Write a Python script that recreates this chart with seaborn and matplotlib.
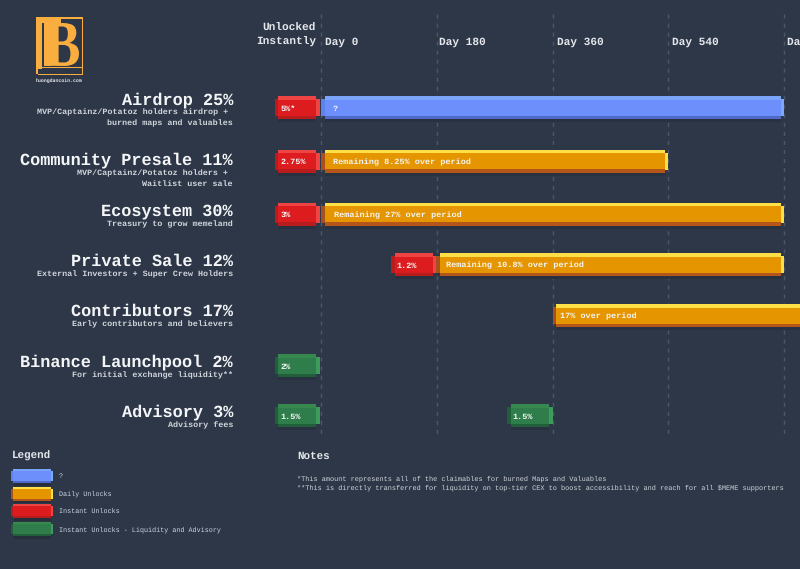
import matplotlib
matplotlib.use("Agg")
import matplotlib.pyplot as plt
import seaborn as sns
from matplotlib.font_manager import FontProperties
from matplotlib.patches import PathPatch, Rectangle
from matplotlib.textpath import TextPath
from matplotlib.transforms import Affine2D

BG = "#2d3748"
MONO = "Liberation Mono"

# allocation rows
titles = ["Airdrop 25%", "Community Presale 11%", "Ecosystem 30%", "Private Sale 12%",
          "Contributors 17%", "Binance Launchpool 2%", "Advisory 3%"]
subtitles = ["MVP/Captainz/Potatoz holders airdrop + \nburned maps and valuables",
             "MVP/Captainz/Potatoz holders + \nWaitlist user sale",
             "Treasury to grow memeland",
             "External Investors + Super Crew Holders",
             "Early contributors and believers",
             "For initial exchange liquidity**",
             "Advisory fees"]
row_y = [107.5, 161, 214, 264.5, 315.5, 365.5, 415.5]
title_base = [104, 164.5, 215.5, 265.5, 315.5, 366.5, 416.5]

# unlock segments, days relative to TGE (negative = "unlocked instantly" column)
seg_row = [0, 0, 1, 1, 2, 2, 3, 3, 4, 5, 6, 6]
seg_start = [-72, 0, -72, 0, -72, 0, 109, 179, 360, -72, -72, 290]
seg_end = [-2, 720, -2, 540, -2, 720, 179, 720, 760, -2, -2, 360]
seg_kind = ["instant", "unknown", "instant", "daily", "instant", "daily",
            "instant", "daily", "daily", "liquidity", "liquidity", "liquidity"]
seg_text = ["5%*", "?", "2.75%", "Remaining 8.25% over period", "3%", "Remaining 27% over period",
            "1.2%", "Remaining 10.8% over period", "17% over period", "2%", "1.5%", "1.5%"]
text_pad = [6, 12, 6, 12, 6, 13, 5, 10, 8, 6, 6, 5]

day_ticks = [0, 180, 360, 540, 720]
day_labels = ["Day 0", "Day 180", "Day 360", "Day 540", "Day 720"]
day_label_x = [325, 439, 557, 672, 787]

legend_kinds = ["unknown", "daily", "instant", "liquidity"]
legend_labels = ["?", "Daily Unlocks", "Instant Unlocks", "Instant Unlocks - Liquidity and Advisory"]
notes = ["*This amount represents all of the claimables for burned Maps and Valuables",
         "**This is directly transferred for liquidity on top-tier CEX to boost accessibility "
         "and reach for all \\$MEME supporters"]

# main, top, bottom, left cap, right cap
palette = {
    "unknown": ("#6c8ffb", "#7ba4fb", "#4f69c9", "#5f83ec", "#7ca8fa"),
    "daily": ("#e59500", "#fde047", "#b4561a", "#a8501e", "#fde047"),
    "instant": ("#dc1c1f", "#ef4444", "#b91c1c", "#b91c1c", "#ef4444"),
    "liquidity": ("#2f7d4b", "#37884f", "#205f3a", "#205f3a", "#3f9a5d"),
}

sns.set_theme(style="dark", rc={"figure.facecolor": BG, "axes.facecolor": BG})
plt.rcParams["font.family"] = [MONO, "DejaVu Sans"]
plt.rcParams["text.hinting"] = "no_hinting"

fig, ax = plt.subplots(figsize=(8, 5.69), dpi=100)
ax.set_position([0, 0, 1, 1])
px = Affine2D().scale(1, -1).translate(0, 569)  # text and legend placed in image pixels
DAY = 180 / 115.75  # days per pixel


def layer(x0, x1, y0, y1, color):
    sns.barplot(x=[x1 - x0], y=[(y0 + y1) / 2], left=[x0], orient="h", native_scale=True,
                width=y1 - y0, color=color, saturation=1, linewidth=0, ax=ax, zorder=3)


def pixel_bar(x0, x1, yc, kind):
    main, top, bottom, lcap, rcap = palette[kind]
    cap = 3.5 * DAY
    layer(x0 + cap, x1 - cap, yc - 8, yc + 14.5, "#283140")
    layer(x0, x1, yc - 8.5, yc + 8.5, lcap)
    layer(x0 + cap, x1, yc - 8.5, yc + 8.5, rcap)
    layer(x0 + cap, x1 - cap, yc - 11.5, yc + 11.5, bottom)
    layer(x0 + cap, x1 - cap, yc - 11.5, yc + 8, top)
    layer(x0 + cap, x1 - cap, yc - 8, yc + 8, main)


ax.vlines(day_ticks, 14, 435, color="#4d5663", lw=1, ls=(0, (3, 3.5)), zorder=1)

for r, a, b, k, t, p in zip(seg_row, seg_start, seg_end, seg_kind, seg_text, text_pad):
    pixel_bar(a, b, row_y[r], k)
    ax.text(a + p * DAY, row_y[r] + 3, t, color="#f4f4f5", fontsize=6.1, fontweight="bold",
            va="baseline", zorder=5)

ax.set_xlim(-321 * DAY, 479 * DAY)
ax.set_ylim(569, 0)
ax.set_axis_off()


def label(x, y, s, size, ha="left", weight="bold", color="#f4f5f7", va="baseline"):
    fig.text(x, y, s, fontsize=size, ha=ha, va=va, fontweight=weight, color=color, transform=px)


for x, d in zip(day_label_x, day_labels):
    label(x, 44.5, d, 8.0, color="#e5e7eb")
label(316, 31, "Unlocked", 8.0, ha="right", color="#e5e7eb")
label(316, 44.5, "Instantly", 8.0, ha="right", color="#e5e7eb")

for y, t, s in zip(title_base, titles, subtitles):
    label(233, y, t, 12.15, ha="right")
    for j, line in enumerate(s.split("\n")):
        label(233, y + 10.5 + j * 10.5, line, 6.05, ha="right", color="#d1d5db")

# legend
label(12, 459, "Legend", 7.8, color="#e5e7eb")
for i, (k, t) in enumerate(zip(legend_kinds, legend_labels)):
    yc = 476 + i * 17.7
    main, top, bottom, lcap, rcap = palette[k]
    for x0, y0, w, h, c in [(14, yc - 5.5, 37, 15, "#262e3c"), (11, yc - 5, 42, 10, lcap),
                            (14, yc - 5, 39, 10, rcap), (13, yc - 7, 38, 14, bottom),
                            (13, yc - 7, 38, 12, top), (13, yc - 5, 38, 10, main)]:
        fig.add_artist(Rectangle((x0, y0), w, h, color=c, lw=0, transform=px))
    label(59, yc + 2, t, 4.9, weight="normal", color="#cbd5e1")

label(297, 459, "Notes", 7.8, color="#e5e7eb")
label(297, 481, notes[0], 4.92, weight="normal", color="#d1d5db")
label(297, 490, notes[1], 4.92, weight="normal", color="#d1d5db")

# logo
GOLD = "#f9ae3f"
for x0, y0, w, h in [(36, 17, 47, 1.5), (81.5, 17, 1.5, 58), (38, 73.5, 45, 1.5), (36, 19, 5.5, 50),
                     (43.5, 19, 7.5, 47), (36, 17, 25, 6), (38, 66.5, 45, 1.5), (36, 69, 1.5, 5)]:
    fig.add_artist(Rectangle((x0, y0), w, h, color=GOLD, lw=0, transform=px))
b_path = TextPath((0, 0), "B", size=40, prop=FontProperties(family="Liberation Serif", weight="bold"))
ext = b_path.get_extents()
b_tf = (Affine2D().translate(-ext.x0, -ext.y0)
        .scale(33 / ext.width, -43 / ext.height).translate(46, 66))
fig.add_artist(PathPatch(b_path, color=GOLD, lw=0, transform=b_tf + px))
label(59.5, 81.5, "huongdancoin.com", 3.5, ha="center", color="#e5e7eb")

fig.savefig("out.png", dpi=100, facecolor=BG)
